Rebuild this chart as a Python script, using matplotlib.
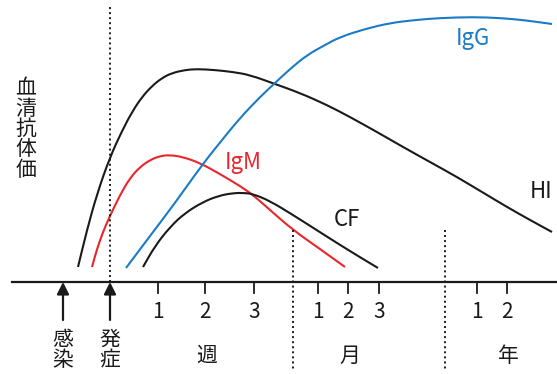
import matplotlib
matplotlib.use('Agg')
import matplotlib.pyplot as plt
from matplotlib.path import Path
from matplotlib.patches import PathPatch

plt.rcParams['font.family'] = ['Noto Sans CJK JP', 'DejaVu Sans']

# 曲線 (横: 時間の位置, 縦: 抗体価, 0 = 横軸)
hi_x = [78, 87, 97, 110, 122, 132, 142, 152, 162, 172, 185, 197, 215, 233, 250, 275, 300, 327, 350, 377, 403, 430, 457, 482, 507, 530, 552]
hi_y = [15, 52, 88, 125, 151, 170, 185, 196, 204, 209, 212, 213, 212, 210, 207, 198, 189, 177, 165, 150, 135, 120, 105, 90, 75, 62, 50]

igm_x = [92, 97, 103, 109, 120, 130, 140, 150, 160, 170, 183, 200, 220, 240, 253, 270, 293, 320, 345]
igm_y = [15, 33, 50, 64, 87, 104, 115, 122, 126, 127, 125, 119, 108, 96, 87, 72, 52, 33, 15]

cf_x = [143, 155, 170, 185, 203, 218, 233, 245, 253, 270, 293, 315, 337, 358, 378]
cf_y = [15, 36, 55, 69, 80, 86, 89, 89, 88, 81, 67, 53, 39, 26, 14]

igg_x = [126, 150, 175, 202, 222, 240, 260, 275, 290, 307, 325, 340, 365, 390, 415, 440, 473, 500, 523, 552]
igg_y = [14, 46, 79, 117, 142, 164, 185, 199, 213, 227, 237, 245, 253, 259, 262, 264, 265, 264, 262, 258]

# 目盛り
week_ticks = [158, 205, 254]
week_labels = ['1', '2', '3']
month_ticks = [318, 348, 379]
month_labels = ['1', '2', '3']
year_ticks = [477, 507]
year_labels = ['1', '2']
events = [63, 110]
event_labels = ['感\n染', '発\n症']
units = ['週', '月', '年']

red = '#e8262c'
blue = '#1b7bc4'
black = '#1a1a1a'


def smooth_curve(ax, xs, ys, color):
    # 点を通る滑らかな線 (2次ベジェ)
    pts = list(zip(xs, ys))
    verts = [pts[0]]
    codes = [Path.MOVETO]
    verts.append(((pts[0][0] + pts[1][0]) / 2, (pts[0][1] + pts[1][1]) / 2))
    codes.append(Path.LINETO)
    for i in range(1, len(pts) - 1):
        nxt = ((pts[i][0] + pts[i + 1][0]) / 2, (pts[i][1] + pts[i + 1][1]) / 2)
        verts += [pts[i], nxt]
        codes += [Path.CURVE3, Path.CURVE3]
    verts.append(pts[-1])
    codes.append(Path.LINETO)
    ax.add_patch(PathPatch(Path(verts, codes), fill=False, edgecolor=color, lw=1.5,
                           capstyle='butt', joinstyle='round'))


fig = plt.figure(figsize=(5.57, 3.74), dpi=100)
ax = fig.add_axes([0, 0, 1, 1])
ax.set_xlim(0, 557)
ax.set_ylim(-92, 282)
ax.axis('off')

smooth_curve(ax, hi_x, hi_y, black)
smooth_curve(ax, igm_x, igm_y, red)
smooth_curve(ax, cf_x, cf_y, black)
smooth_curve(ax, igg_x, igg_y, blue)

ax.text(473, 244, 'IgG', color=blue, fontsize=16, ha='center', va='center')
ax.text(243, 119, 'IgM', color=red, fontsize=16, ha='center', va='center')
ax.text(347, 62, 'CF', color=black, fontsize=16, ha='center', va='center')
ax.text(541, 90, 'HI', color=black, fontsize=16, ha='center', va='center')

# 横軸
ax.plot([12, 557], [0, 0], color=black, lw=1.6)
for t in week_ticks + month_ticks + year_ticks:
    ax.plot([t, t], [0, -11], color=black, lw=1.3)
for ticks, labels in [(week_ticks, week_labels), (month_ticks, month_labels), (year_ticks, year_labels)]:
    for t, lab in zip(ticks, labels):
        ax.text(t, -30, lab, fontsize=15, ha='center', va='center', color=black)

# 点線
dots = (0, (1, 1.6))
ax.plot([110, 110], [0, 277], color=black, lw=1.4, ls=dots)
ax.plot([293, 293], [52, -88], color=black, lw=1.4, ls=dots)
ax.plot([445, 445], [52, -88], color=black, lw=1.4, ls=dots)

# 感染・発症の矢印
for x, lab in zip(events, event_labels):
    ax.annotate('', xy=(x, 0), xytext=(x, -38),
                arrowprops=dict(arrowstyle='-|>', color=black, lw=1.6,
                                mutation_scale=18, shrinkA=0, shrinkB=0))
    ax.text(x, -68, lab, fontsize=15, ha='center', va='center', linespacing=0.9, color=black)

for x, lab in zip([207, 350, 508], units):
    ax.text(x, -74, lab, fontsize=15, ha='center', va='center', color=black)

ax.text(26, 153, '血\n清\n抗\n体\n価', fontsize=15, ha='center', va='center', linespacing=0.9, color=black)

fig.savefig('out.png', dpi=100)
